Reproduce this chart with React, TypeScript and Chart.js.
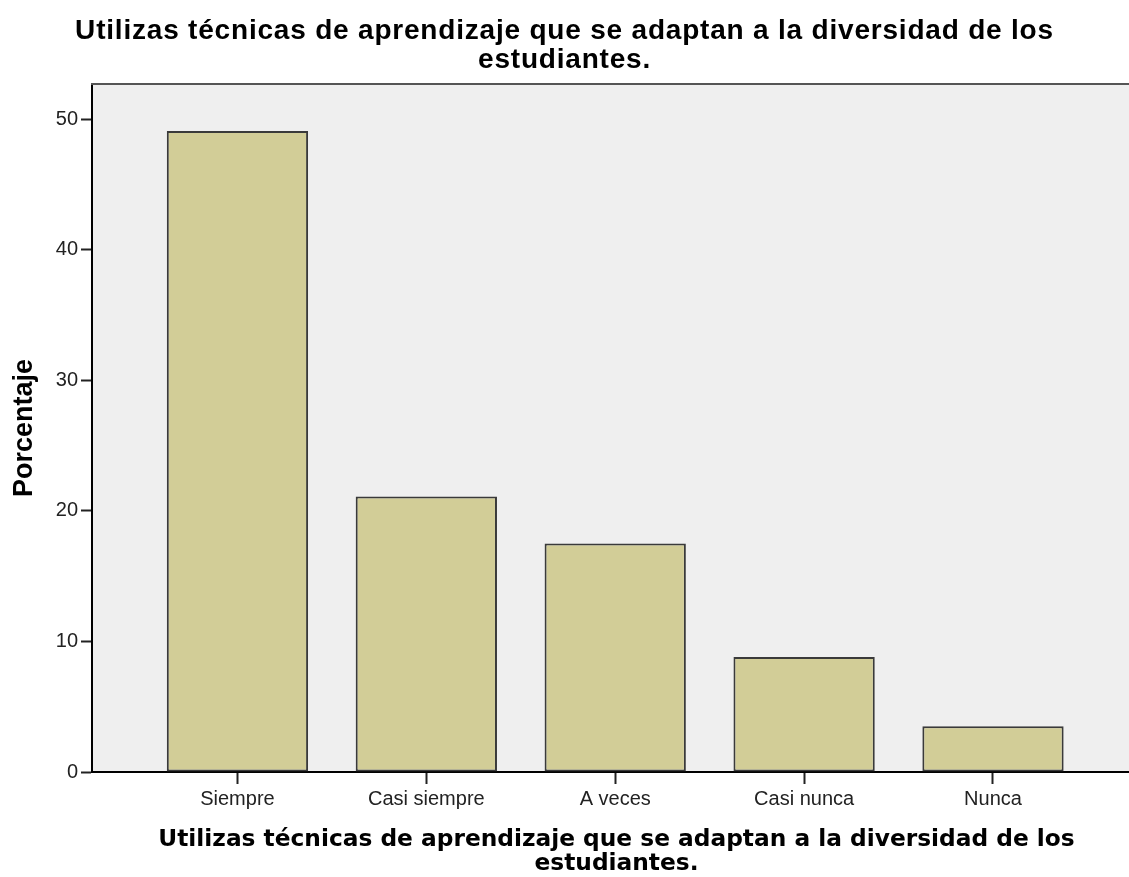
import React, { useEffect, useRef } from "react";
import { Chart, registerables } from "chart.js";

Chart.register(...registerables);

const categories: string[] = ["Siempre", "Casi siempre", "A veces", "Casi nunca", "Nunca"];
const percentages: number[] = [49.1, 21.1, 17.5, 8.8, 3.5];
const yTicks: number[] = [0, 10, 20, 30, 40, 50];
const titleLines: string[] = [
  "Utilizas técnicas de aprendizaje que se adaptan a la diversidad de los",
  "estudiantes.",
];
const yTitle = "Porcentaje";

const W = 1129;
const H = 877;

const plotStyle = {
  id: "plotStyle",
  beforeDraw(chart: any) {
    const { ctx, chartArea } = chart;
    ctx.save();
    ctx.fillStyle = "#efefef";
    ctx.fillRect(chartArea.left, chartArea.top, chartArea.right - chartArea.left, chartArea.bottom - chartArea.top);
    ctx.restore();
    const tb = chart.titleBlock;
    if (tb && !tb.__spaced) {
      const orig = tb.draw.bind(tb);
      tb.draw = (area: any) => {
        const c = chart.ctx;
        c.save();
        (c as any).letterSpacing = "0.8px";
        orig(area);
        c.restore();
      };
      tb.__spaced = true;
    }
    const xs = chart.scales.x;
    if (xs && !xs.__shifted) {
      const origTitle = xs.drawTitle.bind(xs);
      xs.drawTitle = () => {
        const c = chart.ctx;
        c.save();
        c.translate(6, 0);
        origTitle();
        c.restore();
      };
      xs.__shifted = true;
    }
  },
  afterDraw(chart: any) {
    const { ctx, chartArea } = chart;
    ctx.save();
    ctx.strokeStyle = "#555555";
    ctx.lineWidth = 2;
    ctx.beginPath();
    ctx.moveTo(chartArea.left - 1, chartArea.top);
    ctx.lineTo(chartArea.right, chartArea.top);
    ctx.stroke();
    ctx.restore();
  },
};

export default function App() {
  const ref = useRef<HTMLCanvasElement | null>(null);

  useEffect(() => {
    if (!ref.current) return;
    const chart = new Chart(ref.current, {
      type: "bar",
      data: {
        datasets: [
          {
            data: percentages.map((v, i) => ({ x: i, y: v })),
            backgroundColor: "#d2cd97",
            borderColor: "#3a3a3a",
            borderWidth: 2,
            borderSkipped: false,
            categoryPercentage: 1,
            barPercentage: 0.748,
          },
        ],
      },
      options: {
        responsive: false,
        animation: false,
        layout: { padding: 0 },
        plugins: {
          legend: { display: false },
          tooltip: { enabled: false },
          title: {
            display: true,
            text: titleLines,
            color: "#000",
            font: { family: "'Liberation Sans', Arial, sans-serif", size: 28, weight: "bold", lineHeight: 1.018 },
            padding: { top: 17.5, bottom: 9.5 },
          },
        },
        scales: {
          x: {
            type: "linear",
            offset: false,
            min: -0.77,
            max: 4.72,
            afterBuildTicks: (axis: any) => {
              axis.ticks = categories.map((_, i) => ({ value: i }));
            },
            afterFit: (s: any) => {
              s.height = 105;
            },
            ticks: {
              autoSkip: false,
              maxRotation: 0,
              padding: 3,
              color: "#222",
              font: { family: "'Liberation Sans', Arial, sans-serif", size: 20 },
              callback: (v: any) => categories[Number(v)] ?? "",
            },
            grid: {
              display: true,
              offset: false,
              drawOnChartArea: false,
              drawTicks: true,
              tickLength: 12,
              tickWidth: 2,
              tickColor: "#222",
              color: "#222",
            },
            border: { display: true, color: "#000", width: 2 },
            title: {
              display: true,
              text: titleLines,
              color: "#000",
              font: { family: "'DejaVu Sans', sans-serif", size: 23.3, weight: "bold", lineHeight: 1.03 },
              padding: { top: 0, bottom: 1 },
            },
          },
          y: {
            type: "linear",
            min: 0,
            max: 52.7,
            afterBuildTicks: (axis: any) => {
              axis.ticks = yTicks.map((v) => ({ value: v }));
            },
            afterFit: (s: any) => {
              s.width = 92;
            },
            ticks: {
              padding: 3,
              color: "#222",
              font: { family: "'Liberation Sans', Arial, sans-serif", size: 20 },
            },
            grid: {
              display: true,
              drawOnChartArea: false,
              drawTicks: true,
              tickLength: 11,
              tickWidth: 2,
              tickColor: "#222",
              color: "#222",
            },
            border: { display: true, color: "#000", width: 2 },
            title: {
              display: true,
              text: yTitle,
              color: "#000",
              font: { family: "'Liberation Sans', Arial, sans-serif", size: 27, weight: "bold", lineHeight: 1.2 },
              padding: { top: 8, bottom: 0 },
            },
          },
        },
      },
      plugins: [plotStyle],
    } as any);
    return () => chart.destroy();
  }, []);

  return (
    <canvas
      ref={ref}
      width={W}
      height={H}
      style={{ position: "absolute", left: 0, top: 0, width: W, height: H, display: "block" }}
    />
  );
}
